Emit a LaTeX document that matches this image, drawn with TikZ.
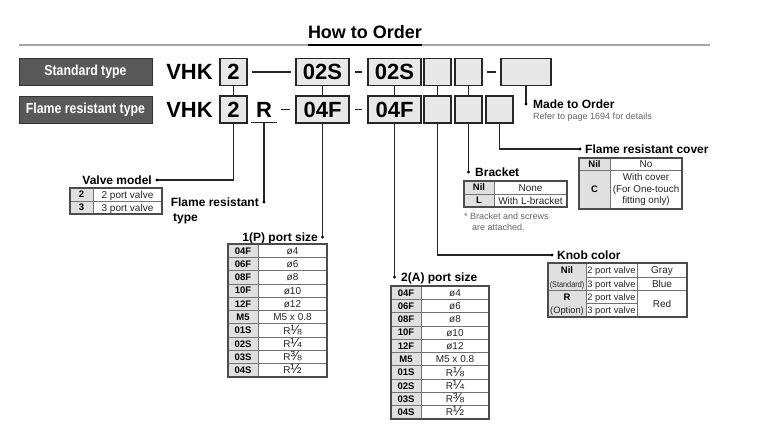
\documentclass[tikz,border=0pt]{standalone}
\usepackage{fontspec}
\setmainfont{Liberation Sans}
\newfontfamily\condfont[FakeStretch=0.85]{Liberation Sans}
\newfontfamily\smallcond[FakeStretch=0.88]{Liberation Sans}
\newcommand{\frc}{\fontsize{13.5}{10}\selectfont}
\tikzset{
 codebox/.style={draw=black!85, fill=black!9, line width=1.1pt, inner sep=0pt, minimum height=27pt, font=\fontsize{22}{22}\selectfont\bfseries},
 bigtxt/.style={inner sep=0pt, font=\fontsize{22}{22}\selectfont\bfseries},
 conn/.style={draw=black!85, line width=1.1pt},
 dashln/.style={draw=black!85, line width=1.4pt},
 lbl/.style={font=\fontsize{12}{14}\selectfont\bfseries, inner sep=0pt, text height=8.6pt, text depth=0pt},
 note/.style={font=\fontsize{9}{10}\selectfont, inner sep=0pt, text=black!60, text height=6.5pt, text depth=0pt},
 typebox/.style={fill=black!65, draw=black!80, line width=0.8pt, text=white, minimum width=133pt, minimum height=27pt, inner sep=0pt, font=\condfont\fontsize{14.5}{15}\selectfont\bfseries},
 outer/.style={draw=black!70, line width=1.1pt},
 inner/.style={draw=black!55, line width=0.6pt},
 hdr/.style={fill=black!12},
 tb/.style={font=\fontsize{9.5}{10}\selectfont\bfseries, inner sep=0pt, text height=6.8pt, text depth=0pt},
 tn/.style={font=\fontsize{10}{10}\selectfont, inner sep=0pt, text=black!85, text height=7.2pt, text depth=0pt},
}
\newcommand{\porttable}[4]{%
\begin{scope}[shift={(#1,#2)}]
 \fill[hdr] (0,0) rectangle (30,133);
 \foreach \k in {1,...,9} {\draw[inner] (0,13.3*\k) -- (#3,13.3*\k);}
 \draw[inner] (30,0) -- (30,133);
 \draw[outer] (0,0) rectangle (#3,133);
 \foreach \c/\v [count=\k from 0] in {04F/ø4,06F/ø6,08F/ø8,10F/ø10,12F/ø12,M5/M5 x 0.8,01S/R{\frc ⅛},02S/R{\frc ¼},03S/R{\frc ⅜},04S/R{\frc ½}}
  {\node[tb] (#4c\k) at (15,13.3*\k+6.65) {\c};
   \node[tn] (#4v\k) at ({(30+#3)/2},13.3*\k+6.65) {\v};}
\end{scope}}
\begin{document}
\begin{tikzpicture}[x=1pt,y=-1pt]
\useasboundingbox (0,0) rectangle (763,435);
\fill[white] (0,0) rectangle (763,435);

% title
\node[font=\fontsize{18}{18}\selectfont\bfseries, inner sep=0pt] (title) at (365,32) {How to Order};
\draw[line width=2.6pt, black!35] (19,45) -- (710,45);
\draw[line width=2.6pt, black] (title.west |- 0,45) -- (title.east |- 0,45);

% type boxes
\node[typebox] (std) at (85.5,71.5) {Standard type};
\node[typebox] (frt) at (85.5,109.5) {Flame resistant type};

% row 1
\node[bigtxt] (vhk1) at (189.5,72) {VHK};
\node[codebox, minimum width=27pt] (a2) at (233.5,72) {2};
\node[codebox, minimum width=53pt] (a3) at (322.5,72) {02S};
\node[codebox, minimum width=53pt] (a4) at (394.5,72) {02S};
\node[codebox, minimum width=27pt] (a5) at (437.5,72) {};
\node[codebox, minimum width=27pt] (a6) at (468.5,72) {};
\node[codebox, minimum width=50pt] (a7) at (526,72) {};

% row 2
\node[bigtxt] (vhk2) at (189.5,109.5) {VHK};
\node[codebox, minimum width=27pt] (r2) at (233.5,109.5) {2};
\node[bigtxt] (rR) at (264,109.5) {R};
\node[codebox, minimum width=53pt] (r3) at (322.5,109.5) {04F};
\node[codebox, minimum width=53pt] (r4) at (394.5,109.5) {04F};
\node[codebox, minimum width=27pt] (r5) at (437.5,109.5) {};
\node[codebox, minimum width=27pt] (r6) at (468.5,109.5) {};
\node[codebox, minimum width=27pt] (r7) at (499.5,109.5) {};

\coordinate (Rl) at (251,122.5);
\coordinate (Rr) at (277,122.5);
\coordinate (Rb) at (264,122.5);
\draw[conn] (Rl) -- (Rr);

% row links
\draw[conn, shorten <=4pt, shorten >=4pt] (a2.east) -- (a3.west);
\draw[dashln, shorten <=5pt, shorten >=5pt] (a3.east) -- (a4.west);
\draw[dashln, shorten <=4pt, shorten >=4pt] (a6.east) -- (a7.west);
\draw[dashln, shorten <=4pt, shorten >=5pt] (Rr |- r3) -- (r3.west);
\draw[dashln, shorten <=5pt, shorten >=5pt] (r3.east) -- (r4.west);
\foreach \n in {2,...,6} {\draw[conn] (a\n.south) -- (r\n.north);}

% leaders and labels
\coordinate (dVM) at (157,180);
\draw[conn] (r2.south) |- (dVM);
\fill (dVM) circle (1.7pt);
\node[lbl, anchor=east] (lVM) at (152,180) {Valve model};

\coordinate (dFR) at (264,202);
\draw[conn] (Rb) -- (dFR);
\fill (dFR) circle (1.7pt);
\node[lbl, anchor=east] (lFR) at (259,202) {Flame resistant};
\node[lbl, anchor=west] (lFR2) at (173,217) {type};

\coordinate (dP1) at (322.5,237);
\draw[conn] (r3.south) -- (dP1);
\fill (dP1) circle (1.7pt);
\node[lbl, anchor=east] (lP1) at (318,237) {1(P) port size};

\coordinate (dA2) at (394.5,277);
\draw[conn] (r4.south) -- (dA2);
\fill (dA2) circle (1.7pt);
\node[lbl, anchor=west] (lA2) at (401,277) {2(A) port size};

\coordinate (dKC) at (552,255);
\draw[conn] (r5.south) |- (dKC);
\fill (dKC) circle (1.7pt);
\node[lbl, anchor=west] (lKC) at (557,255) {Knob color};

\coordinate (dBR) at (468.5,172);
\draw[conn] (r6.south) -- (dBR);
\fill (dBR) circle (1.7pt);
\node[lbl, anchor=west] (lBR) at (475,172) {Bracket};

\coordinate (dFC) at (580,149);
\draw[conn] (r7.south) |- (dFC);
\fill (dFC) circle (1.7pt);
\node[lbl, anchor=west] (lFC) at (585,149) {Flame resistant cover};

\coordinate (dMO) at (526,104);
\draw[conn] (a7.south) -- (dMO);
\fill (dMO) circle (1.7pt);
\node[lbl, anchor=west] (lMO) at (533,104) {Made to Order};
\node[note, anchor=west] (nMO) at (533,116.5) {Refer to page 1694 for details};

% valve model table
\begin{scope}[shift={(70,188)}]
 \fill[hdr] (0,0) rectangle (23,26);
 \draw[inner] (0,13) -- (92,13);
 \draw[inner] (23,0) -- (23,26);
 \draw[outer] (0,0) rectangle (92,26);
 \node[tb] (vm1) at (11.5,6.5) {2};
 \node[tn] (vm2) at (57.5,6.5) {2 port valve};
 \node[tb] (vm3) at (11.5,19.5) {3};
 \node[tn] (vm4) at (57.5,19.5) {3 port valve};
\end{scope}

% port tables
\porttable{228}{244}{99}{pp}
\porttable{391}{286}{98}{pa}

% bracket table
\begin{scope}[shift={(464,181)}]
 \fill[hdr] (0,0) rectangle (30,26);
 \draw[inner] (0,13) -- (103,13);
 \draw[inner] (30,0) -- (30,26);
 \draw[outer] (0,0) rectangle (103,26);
 \node[tb] (br1) at (15,6.5) {Nil};
 \node[tn] (br2) at (66.5,6.5) {None};
 \node[tb] (br3) at (15,19.5) {L};
 \node[tn] (br4) at (66.5,19.5) {With L-bracket};
\end{scope}
\node[note, anchor=west] (nb1) at (464,216) {* Bracket and screws};
\node[note, anchor=west] (nb2) at (472,227) {are attached.};

% cover table
\begin{scope}[shift={(579,158)}]
 \fill[hdr] (0,0) rectangle (31,51);
 \draw[inner] (0,12) -- (103,12);
 \draw[inner] (31,0) -- (31,51);
 \draw[outer] (0,0) rectangle (103,51);
 \node[tb] (fc1) at (15.5,6) {Nil};
 \node[tn] (fc2) at (67,6) {No};
 \node[tb] (fc3) at (15.5,31.5) {C};
 \node[font=\fontsize{9.8}{11.3}\selectfont, text=black!85, inner sep=0pt, align=center] (fc4) at (67,31.5) {With cover\\(For One-touch\\fitting only)};
\end{scope}

% knob table
\begin{scope}[shift={(548,263)}]
 \fill[hdr] (0,0) rectangle (38,54);
 \draw[inner] (0,27) -- (139,27);
 \draw[inner] (38,14) -- (139,14);
 \draw[inner] (38,40.5) -- (89,40.5);
 \draw[inner] (38,0) -- (38,54);
 \draw[inner] (89,0) -- (89,54);
 \draw[outer] (0,0) rectangle (139,54);
 \node[tb] (kn1) at (19,7.5) {Nil};
 \node[tn, font=\smallcond\fontsize{8.3}{9}\selectfont] (kn2) at (19,20.5) {(Standard)};
 \node[tb] (kn3) at (19,34) {R};
 \node[tn, font=\fontsize{9.3}{10}\selectfont] (kn4) at (19,47) {(Option)};
 \node[tn, font=\fontsize{9.3}{10}\selectfont] (kn5) at (63.5,7) {2 port valve};
 \node[tn, font=\fontsize{9.3}{10}\selectfont] (kn6) at (63.5,20.5) {3 port valve};
 \node[tn, font=\fontsize{9.3}{10}\selectfont] (kn7) at (63.5,33.7) {2 port valve};
 \node[tn, font=\fontsize{9.3}{10}\selectfont] (kn8) at (63.5,47.2) {3 port valve};
 \node[tn] (kn9) at (114,7) {Gray};
 \node[tn] (kn10) at (114,20.5) {Blue};
 \node[tn] (kn11) at (114,40.5) {Red};
\end{scope}
\end{tikzpicture}
\end{document}
